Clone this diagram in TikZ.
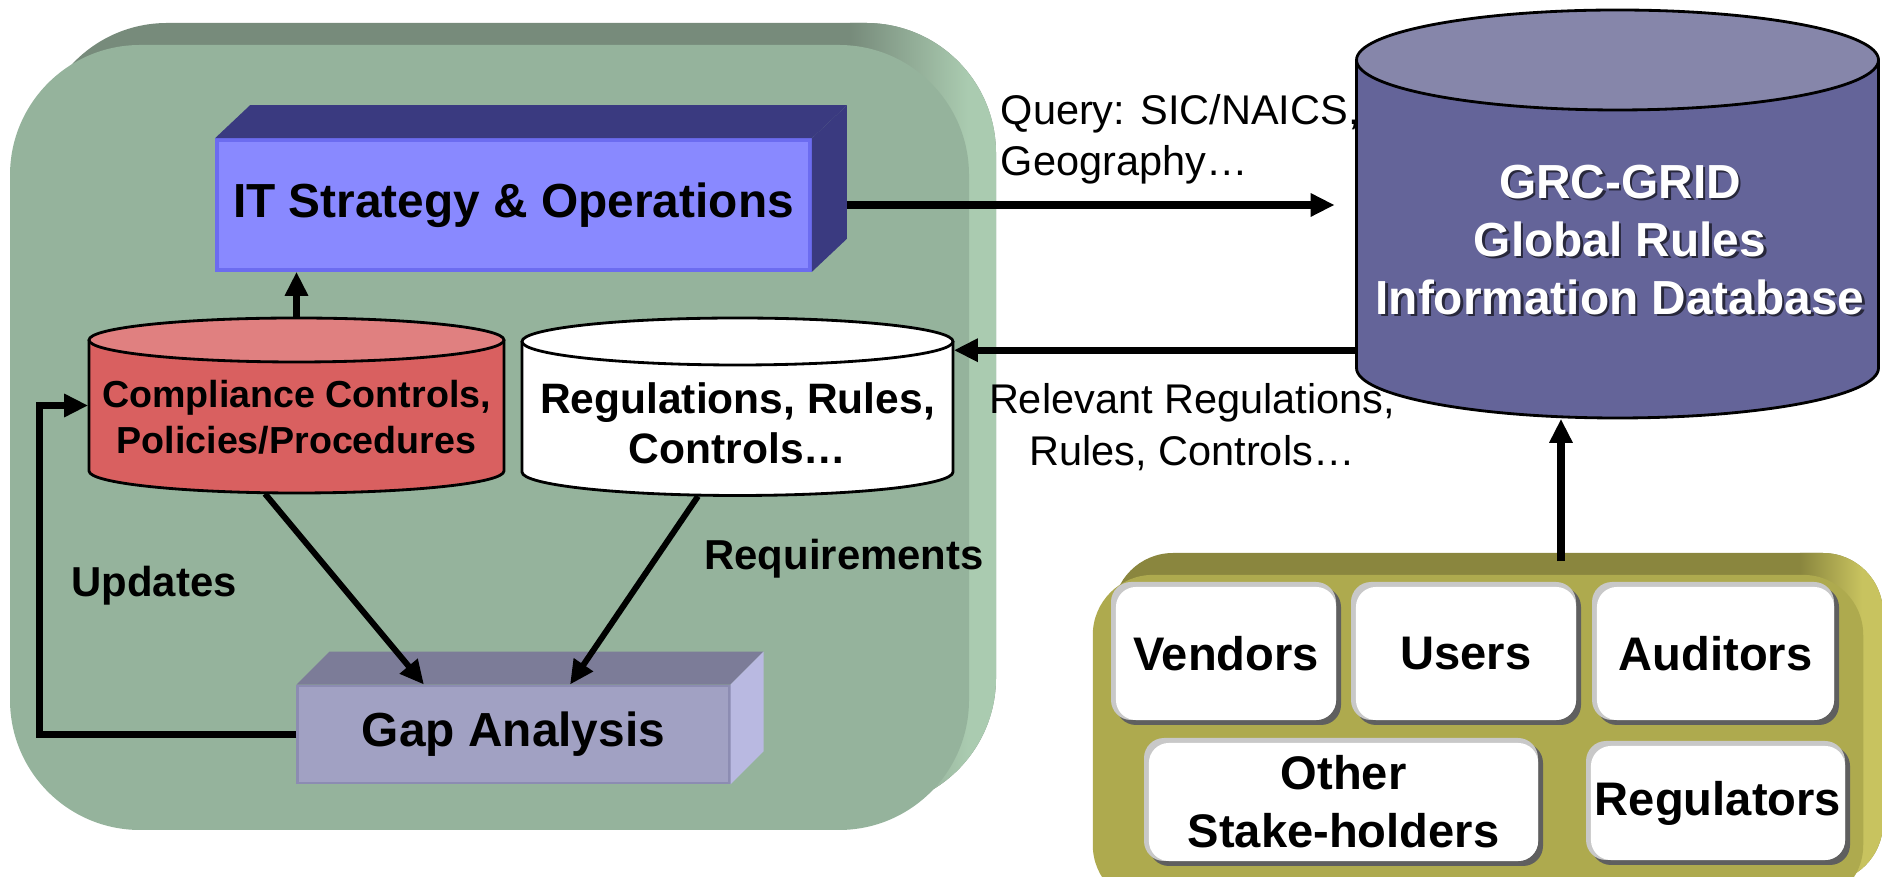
\documentclass[tikz,border=0pt]{standalone}
\usepackage{fontspec}
\setmainfont{Liberation Sans}
\usetikzlibrary{arrows.meta}

\definecolor{panelfront}{RGB}{149,179,156}
\definecolor{paneltop}{RGB}{119,139,123}
\definecolor{panelside}{RGB}{170,203,176}
\definecolor{itfront}{RGB}{137,137,255}
\definecolor{itedge}{RGB}{108,108,240}
\definecolor{itdark}{RGB}{58,58,128}
\definecolor{gapfront}{RGB}{161,161,195}
\definecolor{gapedge}{RGB}{140,140,178}
\definecolor{gaptop}{RGB}{124,124,152}
\definecolor{gapside}{RGB}{185,185,225}
\definecolor{compbody}{RGB}{217,96,96}
\definecolor{comptop}{RGB}{224,128,128}
\definecolor{grcbody}{RGB}{100,100,153}
\definecolor{grctop}{RGB}{134,134,170}
\definecolor{grcshadow}{RGB}{40,40,60}
\definecolor{olivefront}{RGB}{174,170,78}
\definecolor{olivetop}{RGB}{138,134,62}
\definecolor{oliveside}{RGB}{200,195,95}
\definecolor{boxlight}{RGB}{200,200,200}
\definecolor{boxdark}{RGB}{95,95,95}

% full ellipse as four Bezier quarters: centre (#1,#2), radii #3, #4
\newcommand{\ellpath}[4]{(#1-#3,#2) .. controls (#1-#3,#2-0.5523*#4) and (#1-0.5523*#3,#2-#4) .. (#1,#2-#4)
  .. controls (#1+0.5523*#3,#2-#4) and (#1+#3,#2-0.5523*#4) .. (#1+#3,#2)
  .. controls (#1+#3,#2+0.5523*#4) and (#1+0.5523*#3,#2+#4) .. (#1,#2+#4)
  .. controls (#1-0.5523*#3,#2+#4) and (#1-#3,#2+0.5523*#4) .. (#1-#3,#2) -- cycle}
% lower half of an ellipse, from its left end to its right end
\newcommand{\lowhalf}[4]{.. controls (#1-#3,#2+0.5523*#4) and (#1-0.5523*#3,#2+#4) .. (#1,#2+#4)
  .. controls (#1+0.5523*#3,#2+#4) and (#1+#3,#2+0.5523*#4) .. (#1+#3,#2)}
% database cylinder: cx, top centre y, bottom centre y, rx, ry, body colour, top colour
\newcommand{\dbcyl}[7]{%
  \fill[#6] (#1-#4,#2) -- (#1-#4,#3) \lowhalf{#1}{#3}{#4}{#5} -- (#1+#4,#2) -- cycle;
  \draw[cylline] (#1-#4,#2) -- (#1-#4,#3) \lowhalf{#1}{#3}{#4}{#5} -- (#1+#4,#2);
  \filldraw[cylline, fill=#7] \ellpath{#1}{#2}{#4}{#5};
}

\begin{document}
\begin{tikzpicture}[x=0.01cm, y=-0.01cm,
  cylline/.style={draw=black, line width=0.8pt},
  arr/.style={line width=2pt, -{Triangle[length=0.24cm,width=0.22cm]}},
  arrthin/.style={arr, line width=1.7pt},
  big/.style={font=\bfseries\fontsize{13.6}{16.5}\selectfont, align=center, inner sep=0pt},
  lblbold/.style={font=\bfseries\fontsize{11.9}{14.2}\selectfont, inner sep=0pt},
  lblplain/.style={font=\fontsize{11.8}{14.6}\selectfont, inner sep=0pt},
  hidden/.style={inner sep=0pt},
  stakebox/.style={fill=white, rounded corners=0.2cm, inner sep=0pt, align=center,
    font=\bfseries\fontsize{13.4}{16.5}\selectfont},
]
\useasboundingbox (0,0) rectangle (1882,877);
\clip (0,0) rectangle (1882,877);

% ---- green organisation panel (rounded slab) ----
\fill[paneltop, rounded corners=1.3cm] (37,23) rectangle (996,808);
\begin{scope}
  \clip[rounded corners=1.3cm] (37,23) rectangle (996,808);
  \shade[left color=paneltop, right color=panelside] (850,0) rectangle (968,877);
  \fill[panelside] (968,0) rectangle (1000,877);
\end{scope}
\fill[panelfront, rounded corners=1.3cm] (10,45) rectangle (969,830);

% ---- olive stakeholder panel ----
\fill[olivetop, rounded corners=0.6cm] (1113,553) rectangle (1883,883);
\begin{scope}
  \clip[rounded corners=0.6cm] (1113,553) rectangle (1883,883);
  \shade[left color=olivetop, right color=oliveside] (1800,0) rectangle (1862,877);
  \fill[oliveside] (1862,0) rectangle (1890,877);
\end{scope}
\node[fill=olivefront, rounded corners=0.6cm, inner sep=0pt,
      minimum width=7.7cm, minimum height=3.3cm] (stake) at (1478,740) {};

% ---- IT Strategy & Operations block ----
\node[big, fill=itfront, draw=itedge, line width=1pt,
      minimum width=5.93cm, minimum height=1.30cm] (it) at (513.5,205) {IT Strategy \& Operations};
\fill[itdark] (it.north west) -- ++(35,-33) -- ([shift={(35,-33)}]it.north east) -- (it.north east) -- cycle;
\fill[itdark] (it.north east) -- ++(35,-33) -- ([shift={(35,-33)}]it.south east) -- (it.south east) -- cycle;

% ---- compliance controls cylinder ----
\dbcyl{296.5}{340}{471}{207.5}{22}{compbody}{comptop}
\node[hidden, minimum width=4.15cm, minimum height=1.75cm] (comp) at (296.5,405.5) {};
\node[font=\bfseries\fontsize{10.7}{13.1}\selectfont, align=center, inner sep=0pt]
  (comptext) at (296.5,417) {Compliance Controls,\\Policies/Procedures};

% ---- regulations cylinder ----
\dbcyl{737.5}{341.5}{472}{215.5}{23.5}{white}{white}
\node[hidden, minimum width=4.31cm, minimum height=1.775cm] (reg) at (737.5,406.75) {};
\node[font=\bfseries\fontsize{12.1}{14.2}\selectfont, align=center, inner sep=0pt]
  (regtext) at (737.5,423) {Regulations, Rules,\\Controls…};

% ---- Gap Analysis block ----
\node[big, fill=gapfront, draw=gapedge, line width=0.8pt,
      minimum width=4.31cm, minimum height=0.97cm] (gap) at (513.5,734.5) {Gap Analysis};
\fill[gaptop] (gap.north west) -- ++(33,-33) -- ([shift={(33,-33)}]gap.north east) -- (gap.north east) -- cycle;
\fill[gapside] (gap.north east) -- ++(33,-33) -- ([shift={(33,-33)}]gap.south east) -- (gap.south east) -- cycle;

% ---- GRC-GRID database ----
\dbcyl{1617.5}{60}{368}{261}{50}{grcbody}{grctop}
\node[hidden, minimum width=5.22cm, minimum height=4.08cm] (grc) at (1617.5,214) {};
\node[big, text=grcshadow] at (1622.5,242.5) {GRC-GRID\\Global Rules\\Information Database};
\node[big, text=white] (grctext) at (1620,240) {GRC-GRID\\Global Rules\\Information Database};

% ---- stakeholder boxes ----
\fill[boxdark, rounded corners=0.2cm] (1116,587) rectangle (1341,725);
\fill[boxlight, rounded corners=0.2cm] (1111,582) rectangle (1336,720);
\node[stakebox, minimum width=2.20cm, minimum height=1.33cm] (vendors) at (1226,653.5) {Vendors};

\fill[boxdark, rounded corners=0.2cm] (1356,587) rectangle (1581,725);
\fill[boxlight, rounded corners=0.2cm] (1351,582) rectangle (1576,720);
\node[stakebox, minimum width=2.20cm, minimum height=1.33cm] (users) at (1466,653.5) {Users};

\fill[boxdark, rounded corners=0.2cm] (1597,587) rectangle (1839,725);
\fill[boxlight, rounded corners=0.2cm] (1592,582) rectangle (1834,720);
\node[stakebox, minimum width=2.37cm, minimum height=1.33cm] (auditors) at (1715.5,653.5) {Auditors};

\fill[boxdark, rounded corners=0.2cm] (1149,743) rectangle (1543,866);
\fill[boxlight, rounded corners=0.2cm] (1144,738) rectangle (1538,861);
\node[stakebox, minimum width=3.89cm, minimum height=1.18cm] (other) at (1343.5,802) {Other\\Stake-holders};

\fill[boxdark, rounded corners=0.2cm] (1591,746) rectangle (1850,865);
\fill[boxlight, rounded corners=0.2cm] (1586,741) rectangle (1845,860);
\node[stakebox, minimum width=2.54cm, minimum height=1.14cm] (regulators) at (1718,803) {Regulators};

% ---- connectors ----
\draw[arr] (comp.north) -- (comp.north |- it.south);
\coordinate (itout) at ([xshift=0.35cm]it.east);
\draw[arr, shorten >=0.21cm] (itout) -- (itout -| grc.west);
\coordinate (regin) at ([yshift=0.565cm]reg.east);
\draw[arr] (regin -| grc.west) -- (regin);
\draw[arrthin] ([xshift=-0.315cm]comp.south) -- ([xshift=-0.895cm]gap.north);
\draw[arrthin] ([xshift=-0.395cm]reg.south) -- ([xshift=0.565cm]gap.north);
\draw[arr] (gap.west) -- ++(-257,0) |- (comp.west);
\coordinate (grcin) at ([xshift=-0.565cm]grc.south);
\draw[arr, shorten <=0.13cm] (grcin |- stake.north) -- (grcin);

% ---- labels ----
\node[lblbold] (updates) at (154,586) {Updates};
\node[lblbold] (requirements) at (844,559) {Requirements};
\node[lblplain, anchor=west, align=left] (query) at (1000,139) {Query: SIC/NAICS,\\Geography…};
\node[lblplain, align=center] (relevant) at (1192,427) {Relevant Regulations,\\Rules, Controls…};
\end{tikzpicture}
\end{document}
